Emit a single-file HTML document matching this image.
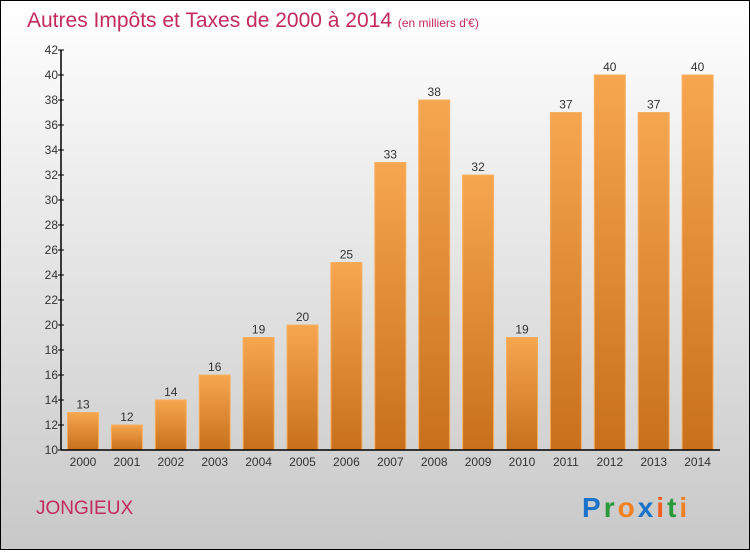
<!DOCTYPE html>
<html><head><meta charset="utf-8"><style>
html,body{margin:0;padding:0}
body{width:750px;height:550px;overflow:hidden;font-family:"Liberation Sans",sans-serif}
</style></head><body>
<svg width="750" height="550" viewBox="0 0 750 550" xmlns="http://www.w3.org/2000/svg">
<defs>
<linearGradient id="bg" x1="0" y1="0" x2="0" y2="1"><stop offset="0" stop-color="#ffffff"/><stop offset="1" stop-color="#c8c8c8"/></linearGradient>
<linearGradient id="bar" x1="0" y1="0" x2="0" y2="1"><stop offset="0" stop-color="#f7a650"/><stop offset="1" stop-color="#c8701c"/></linearGradient>
</defs>
<rect x="0.5" y="0.5" width="749" height="549" fill="url(#bg)" stroke="#000"/>
<text x="27" y="27" font-size="21" fill="#c42a5c">Autres Impôts et Taxes de 2000 à 2014 <tspan font-size="12">(en milliers d'€)</tspan></text>
<g id="bars"></g>
<g id="yaxis"></g>
<g id="xaxis"></g>
<text x="36" y="514" font-size="19" fill="#c42a5c">JONGIEUX</text>
<text x="582" y="517" font-size="28" font-weight="bold" letter-spacing="3"><tspan fill="#1a73c8">P</tspan><tspan fill="#2a9a3a">r</tspan><tspan fill="#f08020">o</tspan><tspan fill="#1a73c8">x</tspan><tspan fill="#f06020">i</tspan><tspan fill="#2a9a3a">t</tspan><tspan fill="#f08020">i</tspan></text>
</svg>
<script>
const years=["2000","2001","2002","2003","2004","2005","2006","2007","2008","2009","2010","2011","2012","2013","2014"];
const values=[13,12,14,16,19,20,25,33,38,32,19,37,40,37,40];
const yTicks=[10,12,14,16,18,20,22,24,26,28,30,32,34,36,38,40,42];
const NS="http://www.w3.org/2000/svg";
const y0=450,yMin=10,pxPer=12.5;
const yS=v=>y0-(v-yMin)*pxPer;
const xS=i=>83+i*43.9;
const bw=31;
function mk(t,a,p){const e=document.createElementNS(NS,t);for(const k in a)e.setAttribute(k,a[k]);p.appendChild(e);return e;}
const gb=document.getElementById('bars'),gy=document.getElementById('yaxis'),gx=document.getElementById('xaxis');
values.forEach((v,i)=>{
 const r=mk('rect',{x:xS(i)-bw/2,y:yS(v),width:bw,height:y0-yS(v),fill:'url(#bar)',stroke:'#f8b060','stroke-width':1},gb);
 
 
 const t=mk('text',{x:xS(i),y:yS(v)-4,'font-size':12,'text-anchor':'middle',fill:'#333'},gb);
 t.textContent=v;
 
 
 const xl=mk('text',{x:xS(i),y:466,'font-size':12,'text-anchor':'middle',fill:'#333'},gx);
 xl.textContent=years[i];
 
 
});
const ya=mk('line',{x1:61,y1:yS(42),x2:61,y2:y0,stroke:'#000','stroke-width':1.5},gy);


const xa=mk('line',{x1:61,y1:y0,x2:720,y2:y0,stroke:'#000','stroke-width':1.5},gx);


yTicks.forEach(v=>{
 mk('line',{x1:58,y1:yS(v),x2:64,y2:yS(v),stroke:'#000'},gy);
 const t=mk('text',{x:58,y:yS(v)+4,'font-size':12,'text-anchor':'end',fill:'#333'},gy);
 t.textContent=v;
 
 
});
</script>
</body></html>
